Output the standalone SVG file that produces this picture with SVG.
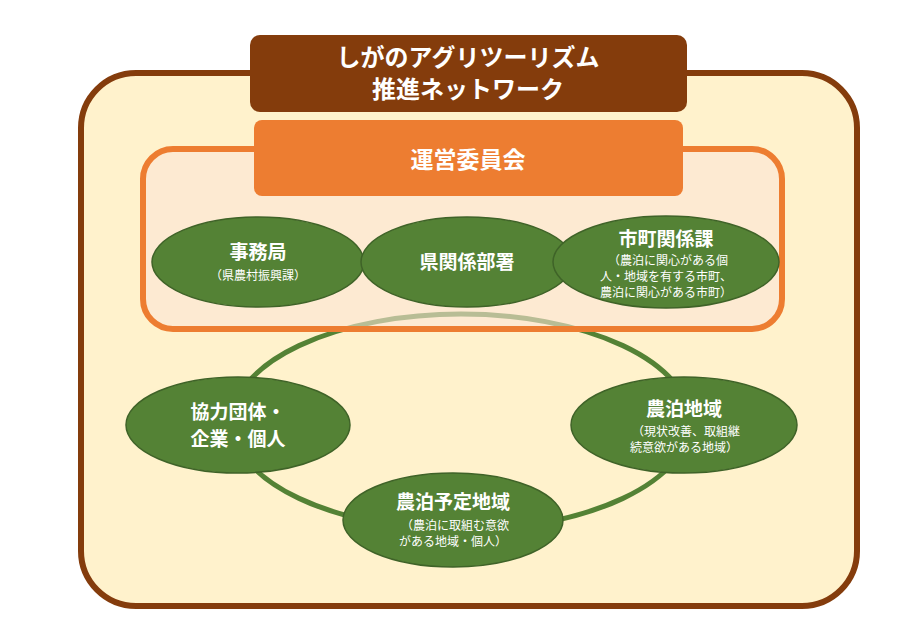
<svg xmlns="http://www.w3.org/2000/svg" width="913" height="635" viewBox="0 0 913 635">
<style>
text{font-family:"Noto Sans CJK JP","Noto Sans CJK SC",sans-serif;fill:#fff;text-anchor:middle;font-weight:bold}
.n{fill:#548235;stroke:#3f6328;stroke-width:1.5}
.t{font-size:19px}
.s{font-size:12px;font-weight:normal}
</style>
<rect x="0" y="0" width="913" height="635" fill="#fff"/>
<rect x="81" y="73" width="776" height="533" rx="55" fill="#FFF2CC" stroke="#843C0C" stroke-width="6"/>
<g id="connectors"><ellipse cx="461" cy="422" rx="229" ry="108" fill="none" stroke="#548235" stroke-width="5"/></g>
<g id="committee">
<rect x="143" y="149" width="639" height="180" rx="30" fill="#FCE4D6" fill-opacity="0.6" stroke="#ED7D31" stroke-width="6"/>
<rect x="254" y="120" width="429" height="76" rx="8" fill="#ED7D31"/>
<text x="468" y="168" style="font-size:23px">運営委員会</text>
</g>
<g id="title"><rect x="250" y="35" width="437" height="77" rx="10" fill="#843C0C"/>
<text x="468" y="66" style="font-size:24px">しがのアグリツーリズム</text>
<text x="468" y="98" style="font-size:24px">推進ネットワーク</text></g>
<g id="n1"><ellipse class="n" cx="258" cy="262" rx="106" ry="45"/><text class="t" x="258" y="259">事務局</text><text class="s" x="258" y="280">（県農村振興課）</text></g>
<g id="n2"><ellipse class="n" cx="467" cy="262" rx="106" ry="45"/><text class="t" x="467" y="269">県関係部署</text></g>
<g id="n3"><ellipse class="n" cx="666" cy="262" rx="113" ry="46"/><text class="t" x="666" y="246">市町関係課</text><text class="s" x="668" y="265">（農泊に関心がある個</text><text class="s" x="666" y="281">人・地域を有する市町、</text><text class="s" x="666" y="297">農泊に関心がある市町）</text></g>
<g id="n4"><ellipse class="n" cx="238" cy="425" rx="112" ry="48"/><text class="t" x="238" y="419">協力団体・</text><text class="t" x="238" y="446">企業・個人</text></g>
<g id="n5"><ellipse class="n" cx="684" cy="425" rx="113" ry="48"/><text class="t" x="684" y="416">農泊地域</text><text class="s" x="686" y="436">（現状改善、取組継</text><text class="s" x="684" y="452">続意欲がある地域）</text></g>
<g id="n6"><ellipse class="n" cx="453" cy="520" rx="110" ry="47"/><text class="t" x="453" y="509">農泊予定地域</text><text class="s" x="455" y="530">（農泊に取組む意欲</text><text class="s" x="453" y="546">がある地域・個人）</text></g>
</svg>
